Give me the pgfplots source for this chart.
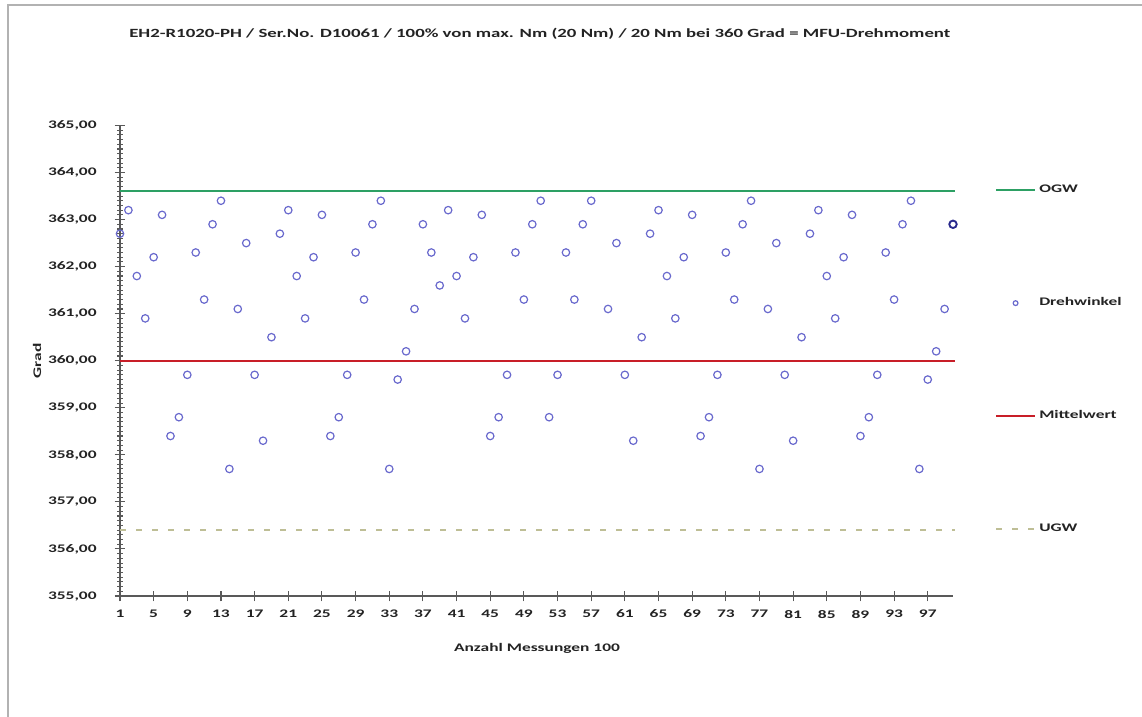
\documentclass[border=0pt]{standalone}
\usepackage{fontspec}
\setmainfont{Carlito}[FakeStretch=1.5]
\usepackage{pgfplots}
\pgfplotsset{compat=1.18}
\definecolor{ptcol}{RGB}{105,105,205}
\definecolor{selcol}{RGB}{40,40,140}
\definecolor{ogwcol}{RGB}{45,160,100}
\definecolor{mwcol}{RGB}{200,30,40}
\definecolor{ugwcol}{RGB}{190,190,150}
\definecolor{txtcol}{RGB}{35,35,35}
\pgfplotsset{
  lineleg/.style={legend image code/.code={\draw[##1] (0pt,0pt) -- (29pt,0pt);}},
  markleg/.style={legend image code/.code={\draw[##1, mark size=1.8pt] plot coordinates {(14.5pt,0pt)};}},
}
\begin{document}
\begin{tikzpicture}
\useasboundingbox (0pt,0pt) rectangle (856.5pt,537.75pt);
\draw[gray!60, line width=1.5pt] (6pt,0pt) -- (6pt,534pt) -- (856.5pt,534pt);
\begin{axis}[
  at={(90pt,90.75pt)}, anchor=south west,
  scale only axis, width=624.75pt, height=352.9pt,
  xmin=1, xmax=100, ymin=355, ymax=365,
  axis lines*=left,
  axis line style={draw=gray!70!black, line width=1pt},
  every tick/.style={draw=gray!70!black, line width=0.8pt},
  tick align=center,
  major tick length=8pt, minor tick length=4.5pt,
  xtick={1,5,...,97},
  ytick={355,356,...,365},
  minor y tick num=9,
  font=\bfseries\fontsize{8.7}{10}\selectfont,
  tick label style={text=txtcol},
  /pgf/number format/assume math mode=true,
  yticklabel style={xshift=-10pt, /pgf/number format/fixed, /pgf/number format/fixed zerofill, /pgf/number format/precision=2, /pgf/number format/use comma, /pgf/number format/1000 sep={}},
  xticklabel style={yshift=-3pt},
  title={EH2-R1020-PH / Ser.No. D10061 / 100\% von max. Nm (20 Nm) / 20 Nm bei 360 Grad = MFU-Drehmoment},
  title style={at={(0.504,1.178)}, anchor=center, text=txtcol, font=\bfseries\fontsize{9.4}{11}\selectfont},
  xlabel={Anzahl Messungen 100},
  xlabel style={at={(0.5006,-0.1105)}, anchor=center, text=txtcol},
  ylabel={Grad},
  ylabel style={at={(-0.0996,0.4995)}, anchor=center, rotate=0, text=txtcol},
  legend style={at={(1.0504,0.8814)}, anchor=north west, draw=none, fill=none,
    row sep=71.7pt, inner sep=0pt,
    nodes={inner sep=2.5pt, text height=6pt, text depth=2pt, text=txtcol, anchor=west}},
  legend cell align=left,
  clip=false,
]
\addplot[ogwcol, line width=1.5pt, lineleg] coordinates {(1,363.6) (100.2,363.6)};
\addlegendentry{OGW}
\addplot[only marks, mark=o, mark size=2.8pt, mark options={draw=ptcol, line width=0.9pt}, markleg]
  table[x=x, y=y] {
x y
1 362.7
2 363.2
3 361.8
4 360.9
5 362.2
6 363.1
7 358.4
8 358.8
9 359.7
10 362.3
11 361.3
12 362.9
13 363.4
14 357.7
15 361.1
16 362.5
17 359.7
18 358.3
19 360.5
20 362.7
21 363.2
22 361.8
23 360.9
24 362.2
25 363.1
26 358.4
27 358.8
28 359.7
29 362.3
30 361.3
31 362.9
32 363.4
33 357.7
34 359.6
35 360.2
36 361.1
37 362.9
38 362.3
39 361.6
40 363.2
41 361.8
42 360.9
43 362.2
44 363.1
45 358.4
46 358.8
47 359.7
48 362.3
49 361.3
50 362.9
51 363.4
52 358.8
53 359.7
54 362.3
55 361.3
56 362.9
57 363.4
59 361.1
60 362.5
61 359.7
62 358.3
63 360.5
64 362.7
65 363.2
66 361.8
67 360.9
68 362.2
69 363.1
70 358.4
71 358.8
72 359.7
73 362.3
74 361.3
75 362.9
76 363.4
77 357.7
78 361.1
79 362.5
80 359.7
81 358.3
82 360.5
83 362.7
84 363.2
85 361.8
86 360.9
87 362.2
88 363.1
89 358.4
90 358.8
91 359.7
92 362.3
93 361.3
94 362.9
95 363.4
96 357.7
97 359.6
98 360.2
99 361.1
};
\addlegendentry{Drehwinkel}
\addplot[mwcol, line width=1.5pt, lineleg] coordinates {(1,360) (100.2,360)};
\addlegendentry{Mittelwert}
\addplot[ugwcol, line width=1.5pt, dash pattern=on 4.5pt off 7.5pt, lineleg] coordinates {(1,356.4) (100.2,356.4)};
\addlegendentry{UGW}
\addplot[only marks, mark=o, mark size=2.8pt, mark options={draw=selcol, line width=1.4pt}, forget plot] coordinates {(100,362.9)};
\end{axis}
\end{tikzpicture}
\end{document}
